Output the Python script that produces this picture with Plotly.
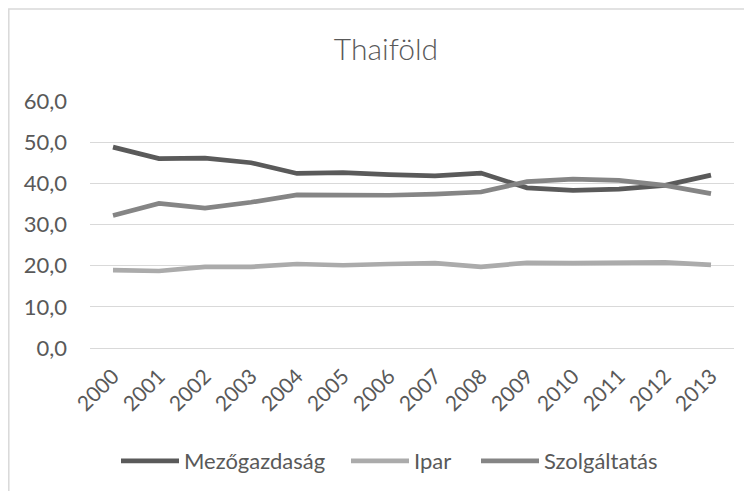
import plotly.graph_objects as go

years = ["2000", "2001", "2002", "2003", "2004", "2005", "2006",
         "2007", "2008", "2009", "2010", "2011", "2012", "2013"]
mezogazdasag = [48.8, 46.0, 46.1, 45.0, 42.4, 42.6, 42.1, 41.8, 42.5, 38.9, 38.3, 38.6, 39.5, 42.0]
ipar = [18.9, 18.7, 19.7, 19.7, 20.4, 20.1, 20.4, 20.6, 19.7, 20.7, 20.6, 20.6, 20.8, 20.2]
szolgaltatas = [32.2, 35.1, 34.0, 35.4, 37.2, 37.2, 37.1, 37.4, 37.9, 40.4, 41.0, 40.7, 39.5, 37.5]
y_ticks = [0, 10, 20, 30, 40, 50, 60]

font_family = "Lato"
text_color = "#595959"
grid_color = "#d9d9d9"

# page body has an 8px offset; plot area in the screenshot spans x 90..734, y 101..348
OFF = 8
PL, PR, PT, PB = 90 - OFF, 734 - OFF, 101 - OFF, 348 - OFF
PW, PH = PR - PL, PB - PT

series = [
    ("Mezőgazdaság", mezogazdasag, "#5a5a5a", "legend", 121),
    ("Ipar", ipar, "#ababab", "legend2", 351),
    ("Szolgáltatás", szolgaltatas, "#858585", "legend3", 481),
]

fig = go.Figure()
for name, vals, col, lg, _ in series:
    fig.add_trace(go.Scatter(
        x=years, y=vals, name=name, mode="lines",
        line=dict(color=col, width=4.7),
        hoverinfo="skip", legend=lg,
    ))

legend_y = (PB - (461 - OFF)) / PH
legends = {}
for name, vals, col, lg, sx in series:
    legends[lg] = dict(
        orientation="h", x=(sx - OFF - 5 - PL) / PW, xanchor="left",
        y=legend_y, yanchor="middle",
        font=dict(family=font_family, size=22, color=text_color),
        itemwidth=58, bgcolor="rgba(0,0,0,0)", borderwidth=0,
    )

fig.update_layout(
    width=752, height=491,
    margin=dict(l=PL, r=752 - PR, t=PT, b=491 - PB),
    paper_bgcolor="white", plot_bgcolor="white",
    separators=",.",
    font=dict(family=font_family, color=text_color, size=21),
    title=dict(
        text="Thaiföld", x=(386 - OFF) / 752, xref="container", xanchor="center",
        y=1 - (49 - OFF) / 491, yref="container", yanchor="middle",
        font=dict(family=font_family, size=30, color=text_color, weight=300),
    ),
    xaxis=dict(
        type="category", range=[-0.5, len(years) - 0.5],
        showgrid=False, showline=False, zeroline=False,
        ticks="", tickangle=-45, tickfont=dict(size=21, color=text_color),
        ticklabelstandoff=11,
        fixedrange=True,
    ),
    yaxis=dict(
        range=[0, 60], tickvals=y_ticks, tickformat=".1f",
        showgrid=True, gridcolor=grid_color, gridwidth=1.3,
        zeroline=True, zerolinecolor=grid_color, zerolinewidth=1.3,
        showline=False, ticks="", ticklabelstandoff=22,
        tickfont=dict(size=22, color=text_color),
        fixedrange=True,
    ),
    showlegend=True,
    shapes=[dict(
        type="rect", xref="paper", yref="paper",
        x0=(0.8 - PL) / PW, x1=1.2, y0=-0.8, y1=(PB - (9 - OFF)) / PH,
        line=dict(color=grid_color, width=1.5), fillcolor="rgba(0,0,0,0)",
        layer="below",
    )],
    **legends,
)

fig.write_html("out.html")
